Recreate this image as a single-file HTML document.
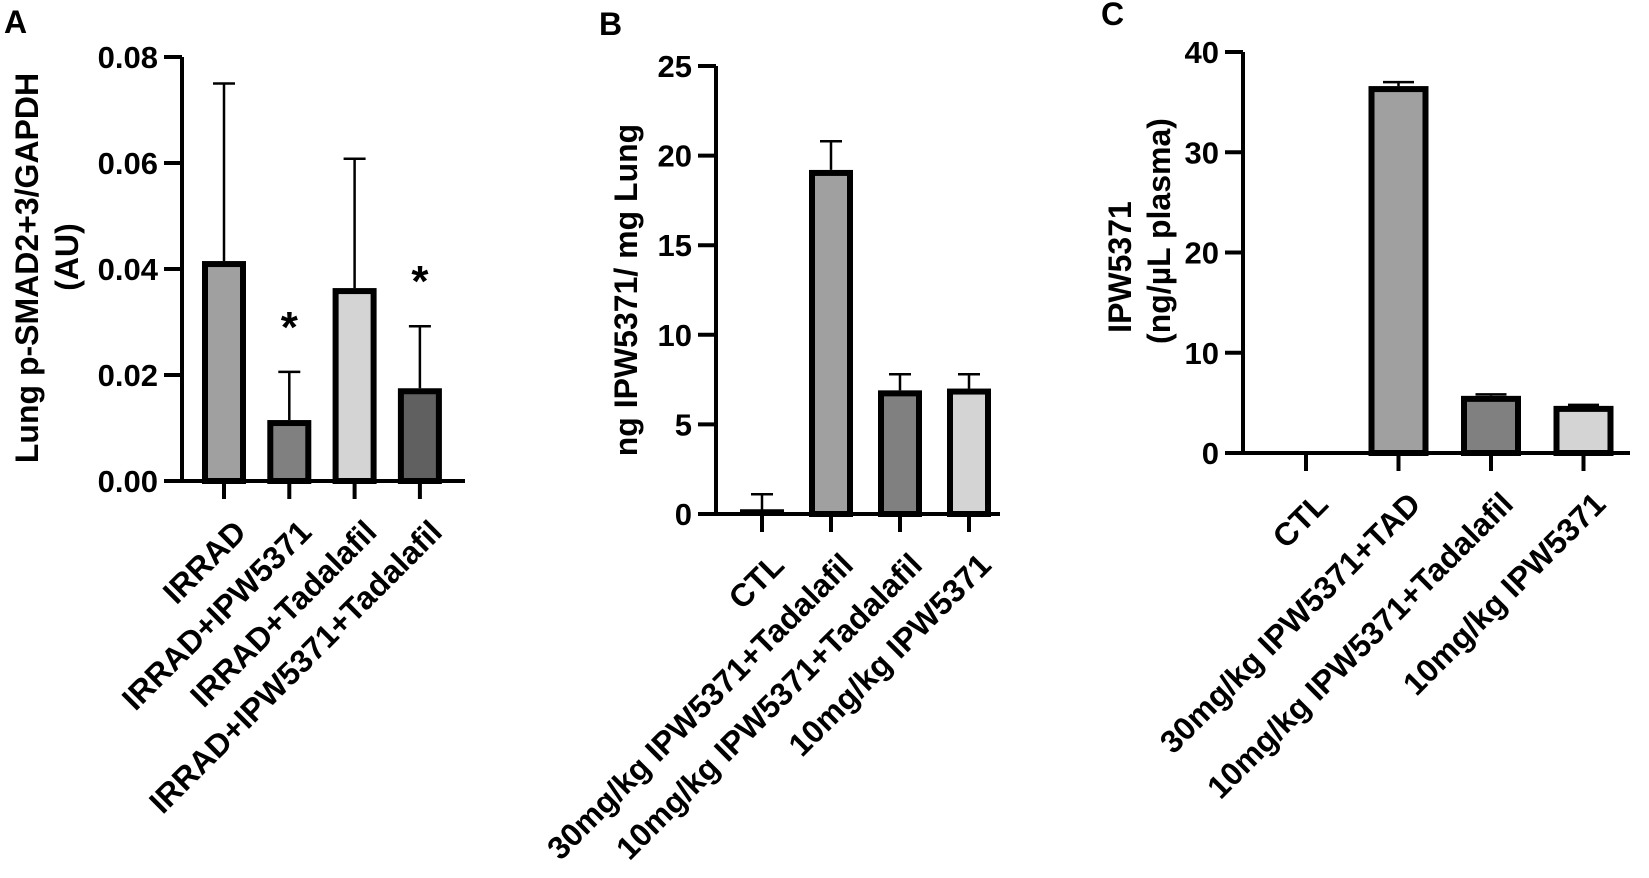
<!DOCTYPE html>
<html><head><meta charset="utf-8"><style>
html,body{margin:0;padding:0;background:#fff;}
svg{display:block;font-family:"Liberation Sans",Arial,sans-serif;font-weight:bold;}
</style></head><body>
<svg id="fig" width="1649" height="878" viewBox="0 0 1649 878"></svg>
<script>
// Panel A data
const catsA = ["IRRAD","IRRAD+IPW5371","IRRAD+Tadalafil","IRRAD+IPW5371+Tadalafil"];
const valsA = [0.0415, 0.0115, 0.0364, 0.0175];
const errA = [0.0750, 0.0206, 0.0608, 0.0292];
const ticksA = [0, 0.02, 0.04, 0.06, 0.08];
const tickLabelsA = ["0.00","0.02","0.04","0.06","0.08"];
const sigA = [false, true, false, true];
// Panel B data
const catsB = ["CTL","30mg/kg IPW5371+Tadalafil","10mg/kg IPW5371+Tadalafil","10mg/kg IPW5371"];
const valsB = [0.1, 19.2, 6.9, 7.0];
const errB = [1.1, 20.8, 7.8, 7.8];
const ticksB = [0, 5, 10, 15, 20, 25];
const tickLabelsB = ["0","5","10","15","20","25"];
// Panel C data
const catsC = ["CTL","30mg/kg IPW5371+TAD","10mg/kg IPW5371+Tadalafil","10mg/kg IPW5371"];
const valsC = [0, 36.6, 5.7, 4.7];
const errC = [0, 37.0, 5.85, 4.8];
const ticksC = [0, 10, 20, 30, 40];
const tickLabelsC = ["0","10","20","30","40"];

const NS = "http://www.w3.org/2000/svg";
const svg = document.getElementById("fig");
function mk(tag, attrs, parent){
  const e = document.createElementNS(NS, tag);
  for (const k in attrs) e.setAttribute(k, attrs[k]);
  (parent||svg).appendChild(e);
  return e;
}

function panel(cfg){
  const g = mk("g", {});
  
  
  const y = v => cfg.y0 - (v - cfg.min) / (cfg.max - cfg.min) * (cfg.y0 - cfg.y1);
  const x = i => cfg.x0 + i * cfg.step;
  cfg.vals.forEach((v, i) => {
    const cx = x(i);
    if (v > 0) {
      const h = cfg.y0 - y(v);
      let r;
      if (h < 8) {
        r = mk("line", {x1: cx - cfg.bw/2, x2: cx + cfg.bw/2, y1: y(v) - 1, y2: y(v) - 1, stroke: "#000", "stroke-width": 4}, g);
      } else {
        r = mk("rect", {x: cx - cfg.bw/2 + 3, y: y(v) + 3, width: cfg.bw - 6, height: h - 3, fill: cfg.colors[i], stroke: "#000", "stroke-width": 6}, g);
      }
      
      
    }
    if (cfg.errs[i] > v) {
      const e = mk("path", {d: `M${cx} ${y(v)} V${y(cfg.errs[i])} M${cx-cfg.cap/2} ${y(cfg.errs[i])} H${cx+cfg.cap/2}`, stroke: "#000", "stroke-width": 2.5, fill: "none"}, g);
      
      
    }
    if (cfg.sig && cfg.sig[i]) {
      const s = mk("text", {x: cx, y: y(cfg.errs[i]) - 30, "text-anchor": "middle", "font-size": 44}, g);
      s.textContent = "*";
      
      
    }
  });
  const ax = mk("path", {d: `M${cfg.ax} ${cfg.y1} V${cfg.y0} M${cfg.ax - 18} ${cfg.y0} H${cfg.xEnd}`, stroke: "#000", "stroke-width": 4, fill: "none"}, g);
  
  
  cfg.ticks.forEach((t, i) => {
    const ty = y(t);
    mk("line", {x1: cfg.ax - 18, x2: cfg.ax, y1: ty, y2: ty, stroke: "#000", "stroke-width": 4}, g);
    const tl = mk("text", {x: cfg.ax - 24, y: ty + 11, "text-anchor": "end", "font-size": 31}, g);
    tl.textContent = cfg.tickLabels[i];
    
    
  });
  cfg.cats.forEach((c, i) => {
    const cx = x(i);
    mk("line", {x1: cx, x2: cx, y1: cfg.y0, y2: cfg.y0 + 18, stroke: "#000", "stroke-width": 4}, g);
    const lx = cx + 24, ly = cfg.y0 + 53;
    const t = mk("text", {x: lx, y: ly, "text-anchor": "end", "font-size": 32, transform: `rotate(-45 ${lx} ${ly})`}, g);
    t.textContent = c;
    
    
  });
  cfg.title.forEach(tt => {
    const t = mk("text", {x: tt.x, y: tt.y, "text-anchor": "middle", "font-size": 32, transform: `rotate(-90 ${tt.x} ${tt.y})`}, g);
    t.textContent = tt.text;
    
    
  });
  const L = mk("text", {x: cfg.letter[0], y: cfg.letter[1], "font-size": 32}, g);
  L.textContent = cfg.letterText;
  
  
}

panel({name:"panel-a", cats: catsA, vals: valsA, errs: errA, ticks: ticksA, tickLabels: tickLabelsA, sig: sigA,
  min:0, max:0.08, y0:481, y1:57, ax:182, xEnd:465, x0:224, step:65.3, bw:44, cap:22,
  colors:["#a0a0a0","#808080","#d4d4d4","#606060"],
  title:[{x:38, y:268, text:"Lung p-SMAD2+3/GAPDH"},{x:78, y:257, text:"(AU)"}],
  letter:[4,33], letterText:"A"});
panel({name:"panel-b", cats: catsB, vals: valsB, errs: errB, ticks: ticksB, tickLabels: tickLabelsB,
  min:0, max:25, y0:514, y1:66, ax:716, xEnd:1000, x0:762, step:69, bw:44, cap:22,
  colors:["#ffffff","#a0a0a0","#808080","#d4d4d4"],
  title:[{x:637, y:290, text:"ng IPW5371/ mg Lung"}],
  letter:[599,35], letterText:"B"});
panel({name:"panel-c", cats: catsC, vals: valsC, errs: errC, ticks: ticksC, tickLabels: tickLabelsC,
  min:0, max:40, y0:453, y1:52, ax:1243, xEnd:1630, x0:1306, step:92.5, bw:60, cap:31,
  colors:["#ffffff","#a0a0a0","#808080","#d4d4d4"],
  title:[{x:1131, y:267, text:"IPW5371"},{x:1170, y:231, text:"(ng/µL plasma)"}],
  letter:[1101,25], letterText:"C"});
</script>
</body></html>
